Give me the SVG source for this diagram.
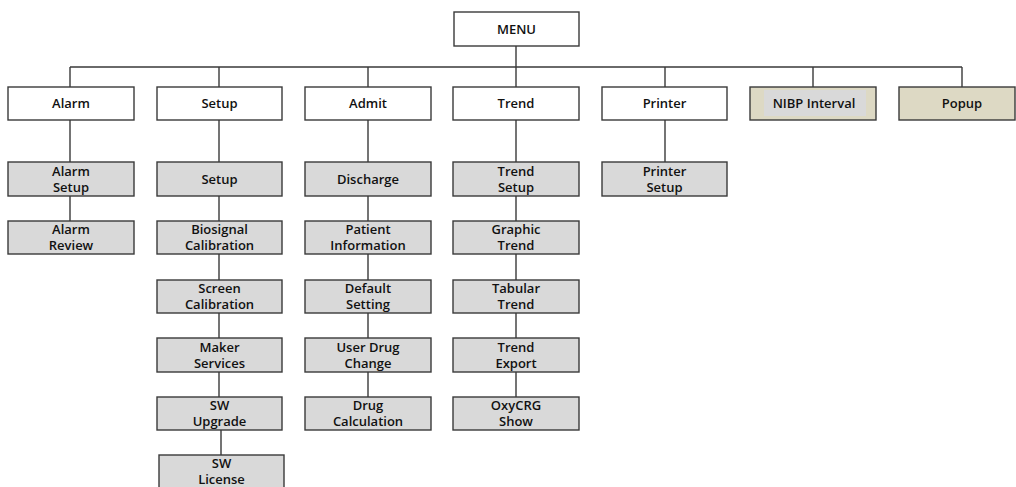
<svg xmlns="http://www.w3.org/2000/svg" width="1016" height="487" viewBox="0 0 1016 487">
<style>
.b{stroke:#3a3a3a;stroke-width:1.4}
.w{fill:#ffffff}
.g{fill:#d9d9d9}
.y{fill:#ddd9c4}
text{font-family:"Open Sans","Noto Sans","Liberation Sans",sans-serif;font-weight:600;font-size:13px;fill:#111;text-anchor:middle}
.c path{stroke:#3a3a3a;stroke-width:1.4;fill:none}
</style>
<rect width="1016" height="487" fill="#ffffff"/>
<g class="c" id="connectors">
<path d="M516 46V67M70 67H962M70 67V87M219 67V87M368 67V87M516 67V87M665 67V87M813 67V87M962 67V87"/>
<path d="M70 120V162M70 196V221"/>
<path d="M219 120V162M219 196V221M219 254V280M219 313V338M219 372V397M221 430V455"/>
<path d="M368 120V162M368 196V221M368 254V280M368 313V338M368 372V397"/>
<path d="M516 120V162M516 196V221M516 254V280M516 313V338M516 372V397"/>
<path d="M665 120V162"/>
</g>
<g id="menu"><rect class="b w" x="454" y="12" width="125" height="34"/><text x="516.5" y="34">MENU</text></g>
<g id="alarm"><rect class="b w" x="8" y="87" width="126" height="33"/><text x="71" y="108">Alarm</text></g>
<g id="setup"><rect class="b w" x="157" y="87" width="125" height="33"/><text x="219.5" y="108">Setup</text></g>
<g id="admit"><rect class="b w" x="305" y="87" width="126" height="33"/><text x="368" y="108">Admit</text></g>
<g id="trend"><rect class="b w" x="453" y="87" width="126" height="33"/><text x="516" y="108">Trend</text></g>
<g id="printer"><rect class="b w" x="602" y="87" width="125" height="33"/><text x="664.5" y="108">Printer</text></g>
<g id="nibp"><rect class="b y" x="750" y="87" width="126" height="33"/><rect class="g" x="764" y="90" width="102" height="26"/><text x="814" y="108">NIBP Interval</text></g>
<g id="popup"><rect class="b y" x="899" y="87" width="116" height="33"/><text x="962" y="108">Popup</text></g>

<g id="alarm-setup"><rect class="b g" x="8" y="162" width="126" height="34"/><text x="71" y="176">Alarm</text><text x="71" y="192">Setup</text></g>
<g id="alarm-review"><rect class="b g" x="8" y="221" width="126" height="33"/><text x="71" y="234">Alarm</text><text x="71" y="250">Review</text></g>

<g id="setup-setup"><rect class="b g" x="157" y="162" width="125" height="34"/><text x="219.5" y="184">Setup</text></g>
<g id="biosignal"><rect class="b g" x="157" y="221" width="125" height="33"/><text x="219.5" y="234">Biosignal</text><text x="219.5" y="250">Calibration</text></g>
<g id="screen"><rect class="b g" x="157" y="280" width="125" height="33"/><text x="219.5" y="293">Screen</text><text x="219.5" y="309">Calibration</text></g>
<g id="maker"><rect class="b g" x="157" y="338" width="125" height="34"/><text x="219.5" y="352">Maker</text><text x="219.5" y="368">Services</text></g>
<g id="sw-upgrade"><rect class="b g" x="157" y="397" width="125" height="33"/><text x="219.5" y="410">SW</text><text x="219.5" y="426">Upgrade</text></g>
<g id="sw-license"><rect class="b g" x="159" y="455" width="125" height="34"/><text x="221.5" y="468">SW</text><text x="221.5" y="484">License</text></g>

<g id="discharge"><rect class="b g" x="305" y="162" width="126" height="34"/><text x="368" y="184">Discharge</text></g>
<g id="patient"><rect class="b g" x="305" y="221" width="126" height="33"/><text x="368" y="234">Patient</text><text x="368" y="250">Information</text></g>
<g id="default"><rect class="b g" x="305" y="280" width="126" height="33"/><text x="368" y="293">Default</text><text x="368" y="309">Setting</text></g>
<g id="userdrug"><rect class="b g" x="305" y="338" width="126" height="34"/><text x="368" y="352">User Drug</text><text x="368" y="368">Change</text></g>
<g id="drugcalc"><rect class="b g" x="305" y="397" width="126" height="33"/><text x="368" y="410">Drug</text><text x="368" y="426">Calculation</text></g>

<g id="trend-setup"><rect class="b g" x="453" y="162" width="126" height="34"/><text x="516" y="176">Trend</text><text x="516" y="192">Setup</text></g>
<g id="graphic"><rect class="b g" x="453" y="221" width="126" height="33"/><text x="516" y="234">Graphic</text><text x="516" y="250">Trend</text></g>
<g id="tabular"><rect class="b g" x="453" y="280" width="126" height="33"/><text x="516" y="293">Tabular</text><text x="516" y="309">Trend</text></g>
<g id="export"><rect class="b g" x="453" y="338" width="126" height="34"/><text x="516" y="352">Trend</text><text x="516" y="368">Export</text></g>
<g id="oxycrg"><rect class="b g" x="453" y="397" width="126" height="33"/><text x="516" y="410">OxyCRG</text><text x="516" y="426">Show</text></g>

<g id="printer-setup"><rect class="b g" x="602" y="162" width="125" height="34"/><text x="664.5" y="176">Printer</text><text x="664.5" y="192">Setup</text></g>
</svg>
